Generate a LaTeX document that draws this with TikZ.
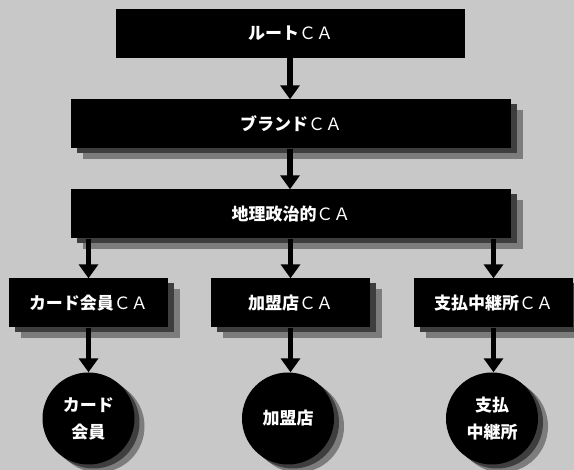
\documentclass[tikz,border=0pt]{standalone}
\usepackage{fontspec}
\newfontfamily\jp{Noto Sans CJK JP}
\usetikzlibrary{arrows.meta}
\definecolor{bgc}{HTML}{C8C8C8}
\definecolor{shd}{HTML}{3E3E3E}
\definecolor{shl}{HTML}{7C7C7C}
\newcommand{\ca}{{\mdseries ＣＡ}}
\tikzset{
  box/.style={fill=black, text=white, inner sep=0pt, minimum height=49pt,
    font=\jp\bfseries\fontsize{17}{20}\selectfont},
  boxshadow/.style={preaction={fill=shl, transform canvas={shift={(12pt,-11pt)}}},
    preaction={fill=shd, transform canvas={shift={(6pt,-5pt)}}}},
  endpt/.style={circle, fill=black, text=white, inner sep=0pt, minimum size=92pt,
    align=center, font=\jp\bfseries\fontsize{17}{27}\selectfont,
    preaction={fill=shl, transform canvas={shift={(10pt,-8pt)}}},
    preaction={fill=shd, transform canvas={shift={(5pt,-4pt)}}}},
  arr/.style={line width=5.5pt, -{Triangle[width=19pt,length=14pt]}}
}
\begin{document}
\begin{tikzpicture}[x=1pt,y=-1pt]
\fill[bgc] (0,0) rectangle (574,470);
\useasboundingbox (0,0) rectangle (574,470);
\node[box, minimum width=349pt] (root) at (290.5,33.5) {ルート\ca};
\node[box, boxshadow, minimum width=440pt] (brand) at (291,124) {ブランド\ca};
\node[box, boxshadow, minimum width=440pt] (geo) at (291,214) {地理政治的\ca};
\node[box, boxshadow, minimum width=159pt] (cardca) at (88.5,303) {カード会員\ca};
\node[box, boxshadow, minimum width=159pt] (merca) at (290.5,303) {加盟店\ca};
\node[box, boxshadow, minimum width=159pt] (payca) at (493.5,303) {支払中継所\ca};
\node[endpt] (card) at (88.5,418.5) {カード\\会員};
\node[endpt] (mer) at (288,418.5) {加盟店};
\node[endpt] (pay) at (492,418.5) {支払\\中継所};
\draw[arr] (root.south -| 290,0) -- (brand.north -| 290,0);
\draw[arr] (brand.south -| 290,0) -- (geo.north -| 290,0);
\draw[arr] (geo.south -| cardca.north) -- (cardca.north);
\draw[arr] (geo.south -| merca.north) -- (merca.north);
\draw[arr] (geo.south -| payca.north) -- (payca.north);
\draw[arr] (cardca.south) -- (card.north);
\draw[arr] (merca.south) -- (mer.north -| merca.south);
\draw[arr] (payca.south) -- (pay.north -| payca.south);
\end{tikzpicture}
\end{document}
